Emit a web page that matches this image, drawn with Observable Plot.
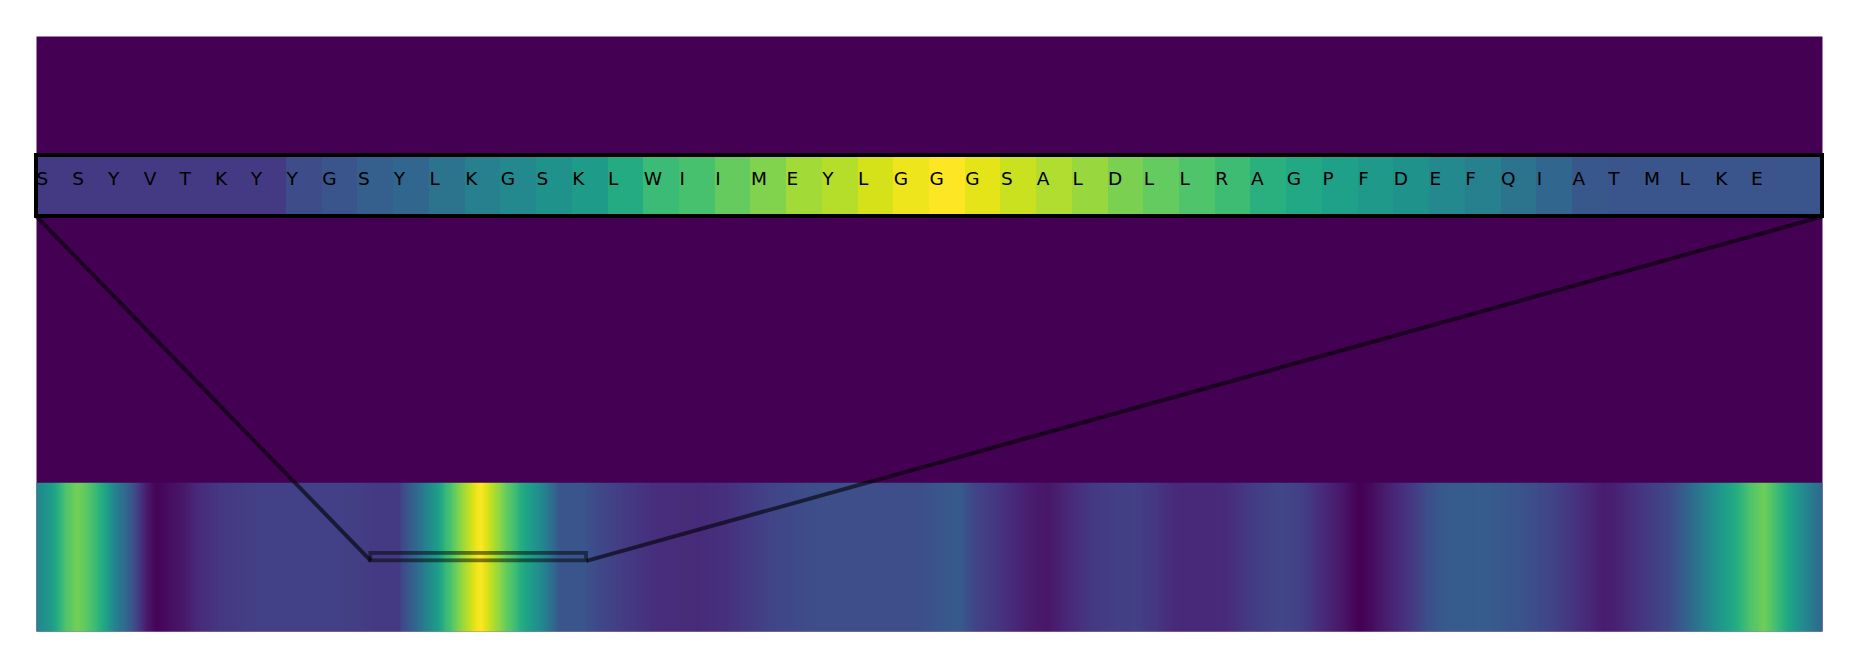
<!DOCTYPE html>
<html>
<head>
<meta charset="utf-8">
<script src="https://cdn.jsdelivr.net/npm/d3@7"></script>
<script src="https://cdn.jsdelivr.net/npm/@observablehq/plot@0.6"></script>
<style>
  html, body { margin: 0; padding: 0; background: #ffffff; }
  #chart { position: relative; width: 1857px; height: 667px; }
  #chart svg { position: absolute; left: 0; top: 0; }
</style>
</head>
<body>
<div id="chart"></div>
<script>
// ---------------- data ----------------
const residueCount = 414;
const zoomWindow = [77, 127];           // residues shown in the zoomed strip
const sequence = "SSYVTKYYGSYLKGSKLWIIMEYLGGGSALDLLRAGPFDEFQIATMLKE".split("");
const windowScores = [
  0.17, 0.17, 0.17, 0.17, 0.17, 0.17, 0.17, 0.23, 0.26, 0.30,
  0.33, 0.38, 0.43, 0.47, 0.51, 0.55, 0.61, 0.68, 0.71, 0.765,
  0.81, 0.86, 0.89, 0.935, 0.975, 1.00, 0.96, 0.92, 0.88, 0.845,
  0.80, 0.76, 0.725, 0.69, 0.635, 0.60, 0.565, 0.54, 0.505, 0.47,
  0.43, 0.38, 0.33, 0.27, 0.265, 0.265, 0.26, 0.26, 0.26, 0.26
];
// whole-sequence profile read outside the zoom window (residue position, score)
const profilePositions = [
  -0.5, 3.0, 6.2, 9.0, 10.9, 13.2, 15.5, 17.8, 20.5, 22.7, 25.0, 27.3, 29.6, 33.3,
  37.1, 40.6, 44.2, 51.4, 60.7, 70.0, 74.6,
  128.6, 132.3, 137.7, 143.9, 153.2, 159.6, 165.0, 169.6, 174.3, 180.5, 203.5, 210.0,
  213.7, 217.3, 221.8, 226.4, 231.1, 233.9, 238.4, 244.7, 249.4, 254.0, 258.6, 263.1,
  267.7, 275.1, 280.9, 287.8, 292.6, 297.5, 302.2, 306.2, 309.1, 313.0, 317.9, 321.7,
  325.6, 334.2, 343.0, 347.0, 350.9, 354.8, 358.6, 362.5, 365.5, 369.3, 374.2, 378.0,
  382.0, 385.8, 389.7, 393.6, 396.7, 400.0, 402.6, 405.4, 408.3, 411.3, 413.5
];
const profileScores = [
  0.45, 0.55, 0.72, 0.79, 0.75, 0.68, 0.58, 0.44, 0.32, 0.20, 0.07, 0.01, 0.03, 0.06,
  0.12, 0.15, 0.17, 0.19, 0.19, 0.19, 0.18,
  0.23, 0.20, 0.16, 0.13, 0.12, 0.14, 0.17, 0.20, 0.22, 0.235, 0.235, 0.27,
  0.28, 0.20, 0.16, 0.11, 0.07, 0.06, 0.11, 0.17, 0.18, 0.19, 0.16, 0.12,
  0.11, 0.12, 0.17, 0.21, 0.19, 0.12, 0.06, 0.00, 0.03, 0.09, 0.16, 0.23,
  0.28, 0.29, 0.26, 0.23, 0.20, 0.16, 0.12, 0.08, 0.09, 0.13, 0.18, 0.22,
  0.31, 0.42, 0.53, 0.62, 0.72, 0.78, 0.70, 0.60, 0.50, 0.40, 0.33
];

// ---------------- derived tables ----------------
const windowLen = windowScores.length;
const samples = profilePositions.map((p, k) => ({pos: p, score: profileScores[k]}))
  .concat(windowScores.map((s, i) => ({
    pos: zoomWindow[0] + (i + 0.5) * (zoomWindow[1] - zoomWindow[0]) / windowLen,
    score: s
  })))
  .sort((a, b) => a.pos - b.pos);
const heatPoints = samples.flatMap(d => [{pos: d.pos, row: 0, score: d.score}, {pos: d.pos, row: 1, score: d.score}]);
const cells = windowScores.map((s, i) => ({i, score: s}));
const letters = sequence.map((l, i) => ({i, letter: l}));

// ---------------- layout (in y units, frame = 4 rows) ----------------
const W = 1857, H = 667;
const margins = {marginLeft: 36, marginRight: 35, marginTop: 36, marginBottom: 36};
const yDomain = [0, 4];
const heatBand = [0, 1];
const insetBand = [2.79, 3.2];
const zoomBoxBand = [0.475, 0.525];
const xDomain = [-0.5, residueCount - 0.5];
const colorScale = {type: "linear", scheme: "viridis", domain: [0, 1]};

const main = Plot.plot({
  width: W, height: H, ...margins,
  style: {background: "transparent", overflow: "visible"},
  x: {domain: xDomain, axis: null},
  y: {domain: yDomain, axis: null},
  color: colorScale,
  marks: [
    Plot.frame({fill: d3.interpolateViridis(0)}),
    Plot.raster(heatPoints, {
      x: "pos", y: "row", fill: "score", interpolate: "barycentric",
      x1: xDomain[0], x2: xDomain[1], y1: heatBand[0], y2: heatBand[1],
      width: 1786, height: 4
    }),
    Plot.link([
      {xa: xDomain[0], xb: zoomWindow[0]},
      {xa: xDomain[1], xb: zoomWindow[1]}
    ], {
      x1: "xa", y1: insetBand[0], x2: "xb", y2: zoomBoxBand[0],
      stroke: "black", strokeOpacity: 0.6, strokeWidth: 4
    }),
    Plot.rect([zoomWindow], {
      x1: d => d[0], x2: d => d[1], y1: zoomBoxBand[0], y2: zoomBoxBand[1],
      fill: "none", stroke: "black", strokeOpacity: 0.5, strokeWidth: 3.8
    })
  ]
});

const inset = Plot.plot({
  width: W, height: H, ...margins,
  style: {background: "transparent", overflow: "visible"},
  x: {domain: [0, windowLen], axis: null},
  y: {domain: yDomain, axis: null},
  color: colorScale,
  marks: [
    Plot.rect(cells, {
      x1: "i", x2: d => d.i + 1, y1: insetBand[0], y2: insetBand[1],
      fill: "score", shapeRendering: "crispEdges"
    }),
    Plot.text(letters, {
      x: "i", y: (insetBand[0] + insetBand[1]) / 2 + 0.005, text: "letter",
      textAnchor: "start", lineAnchor: "bottom",
      fontSize: 18.5, fontFamily: "DejaVu Sans", fill: "black"
    }),
    Plot.rect([0], {
      x1: 0, x2: windowLen, y1: insetBand[0], y2: insetBand[1],
      fill: "none", stroke: "black", strokeWidth: 4
    })
  ]
});

const chart = document.getElementById("chart");
chart.appendChild(main);
chart.appendChild(inset);
</script>
</body>
</html>
